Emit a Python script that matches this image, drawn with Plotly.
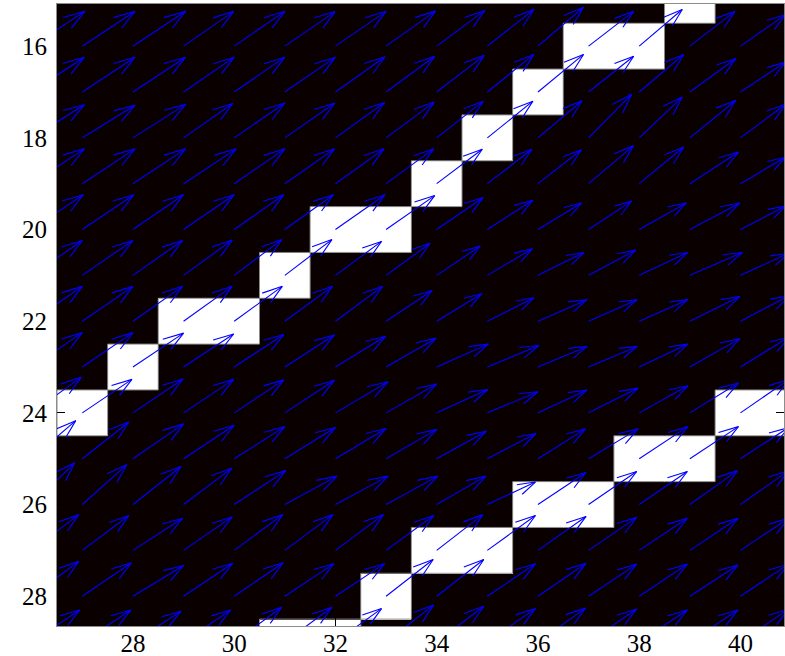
import plotly.graph_objects as go

# ---- image cells (1 = white) ----
x_cells = list(range(26, 42))   # 26 .. 41
y_cells = list(range(15, 30))   # 15 .. 29
white_cells = {
    15: [39],
    16: [37, 38],
    17: [36],
    18: [35],
    19: [34],
    20: [32, 33],
    21: [31],
    22: [29, 30],
    23: [28],
    24: [27, 40, 41],
    25: [38, 39],
    26: [36, 37],
    27: [34, 35],
    28: [33],
    29: [31, 32],
}

# ---- quiver field (tails on the integer grid) ----
x_arrow = list(range(26, 41))   # 26 .. 40
y_arrow = list(range(15, 30))   # 15 .. 29
U = [
    [1.03, 1.04, 1.04, 0.99, 1.00, 1.00, 1.00, 0.98, 0.95, 0.92, 0.90, 0.89, 0.85, 0.89, 0.89],
    [1.05, 1.04, 1.04, 0.99, 1.00, 1.00, 1.00, 0.98, 0.95, 0.92, 0.90, 0.89, 0.85, 0.89, 0.89],
    [1.04, 1.04, 1.04, 1.00, 1.00, 1.00, 0.98, 0.96, 0.94, 0.92, 0.90, 0.89, 0.88, 0.91, 0.89],
    [1.04, 1.04, 1.04, 0.97, 1.00, 0.99, 0.97, 0.95, 0.92, 0.90, 0.87, 0.85, 0.85, 0.91, 0.89],
    [1.04, 1.04, 1.04, 1.04, 1.00, 0.98, 0.96, 0.94, 0.90, 0.88, 0.86, 0.89, 0.88, 0.96, 0.89],
    [1.02, 1.02, 1.00, 1.00, 0.98, 0.96, 0.98, 0.96, 0.92, 0.90, 0.86, 0.85, 0.93, 0.99, 0.89],
    [1.00, 1.00, 0.98, 0.96, 0.94, 0.93, 0.91, 0.87, 0.86, 0.89, 0.91, 0.93, 0.96, 1.04, 0.95],
    [1.00, 1.00, 0.98, 0.96, 0.95, 0.94, 0.93, 0.91, 0.89, 0.92, 0.97, 0.96, 0.96, 0.99, 0.97],
    [1.00, 1.00, 1.00, 0.99, 0.98, 0.98, 0.99, 0.99, 1.02, 1.02, 0.97, 0.96, 0.96, 0.99, 0.97],
    [0.98, 0.98, 0.99, 0.99, 0.98, 0.98, 1.04, 1.00, 1.01, 1.00, 0.97, 0.98, 0.96, 0.96, 0.96],
    [0.87, 0.92, 1.00, 1.00, 1.00, 1.00, 1.00, 1.00, 0.98, 0.96, 0.94, 0.98, 0.96, 0.96, 0.95],
    [0.85, 0.88, 0.95, 0.95, 1.02, 1.03, 1.04, 1.02, 0.97, 0.95, 0.95, 0.95, 0.95, 0.94, 0.95],
    [0.93, 0.92, 0.98, 0.96, 0.96, 0.95, 0.95, 0.94, 0.91, 0.95, 0.95, 0.95, 0.95, 0.95, 0.95],
    [0.93, 0.97, 1.00, 0.97, 0.97, 0.97, 0.97, 0.93, 0.93, 0.95, 0.95, 0.95, 0.95, 0.95, 0.95],
    [0.95, 0.96, 0.95, 0.93, 0.94, 0.93, 0.91, 0.94, 0.93, 0.95, 0.94, 0.95, 0.95, 0.95, 0.95],
]
V = [
    [-0.76, -0.76, -0.76, -0.76, -0.76, -0.76, -0.76, -0.77, -0.78, -0.80, -0.85, -0.76, -0.80, -0.76, -0.69],
    [-0.76, -0.76, -0.76, -0.76, -0.76, -0.76, -0.76, -0.77, -0.78, -0.80, -0.85, -0.76, -0.80, -0.76, -0.69],
    [-0.76, -0.76, -0.76, -0.76, -0.76, -0.76, -0.77, -0.78, -0.80, -0.82, -0.82, -0.78, -0.82, -0.73, -0.65],
    [-0.72, -0.71, -0.73, -0.75, -0.76, -0.76, -0.77, -0.78, -0.80, -0.80, -0.81, -0.95, -0.89, -0.82, -0.73],
    [-0.76, -0.76, -0.76, -0.76, -0.76, -0.76, -0.76, -0.76, -0.75, -0.75, -0.74, -0.83, -0.80, -0.69, -0.58],
    [-0.76, -0.76, -0.76, -0.76, -0.76, -0.76, -0.76, -0.74, -0.70, -0.64, -0.58, -0.62, -0.58, -0.58, -0.51],
    [-0.76, -0.76, -0.76, -0.77, -0.78, -0.78, -0.74, -0.70, -0.64, -0.58, -0.50, -0.55, -0.50, -0.50, -0.48],
    [-0.76, -0.76, -0.76, -0.76, -0.76, -0.76, -0.76, -0.67, -0.60, -0.51, -0.47, -0.47, -0.47, -0.54, -0.56],
    [-0.75, -0.75, -0.74, -0.72, -0.71, -0.70, -0.67, -0.63, -0.50, -0.47, -0.45, -0.45, -0.50, -0.62, -0.66],
    [-0.78, -0.73, -0.74, -0.73, -0.72, -0.71, -0.68, -0.63, -0.51, -0.46, -0.50, -0.54, -0.59, -0.65, -0.73],
    [-0.83, -0.80, -0.76, -0.73, -0.70, -0.68, -0.66, -0.64, -0.60, -0.55, -0.65, -0.65, -0.70, -0.70, -0.68],
    [-0.91, -0.87, -0.83, -0.79, -0.74, -0.62, -0.62, -0.62, -0.62, -0.49, -0.70, -0.72, -0.72, -0.74, -0.74],
    [-0.78, -0.76, -0.70, -0.73, -0.78, -0.78, -0.78, -0.76, -0.78, -0.76, -0.74, -0.72, -0.70, -0.70, -0.70],
    [-0.76, -0.73, -0.67, -0.72, -0.73, -0.71, -0.71, -0.80, -0.80, -0.71, -0.72, -0.70, -0.70, -0.68, -0.70],
    [-0.70, -0.70, -0.67, -0.70, -0.76, -0.76, -0.73, -0.81, -0.78, -0.73, -0.74, -0.72, -0.70, -0.70, -0.72],
]

x_ticks = [28, 30, 32, 34, 36, 38, 40]
y_ticks = [16, 18, 20, 22, 24, 26, 28]

# ---- build the image matrix ----
z = [[1 if (xc in white_cells.get(yc, [])) else 0 for xc in x_cells] for yc in y_cells]

fig = go.Figure()
fig.add_trace(go.Heatmap(
    x=x_cells, y=y_cells, z=z, zmin=0, zmax=1,
    colorscale=[[0, "#0a0000"], [1, "#ffffff"]],
    showscale=False, hoverinfo="skip",
))

# edges between white and black cells (anti-aliased grey outline)
def is_white(xc, yc):
    return xc in white_cells.get(yc, [])

ex, ey = [], []
for yc in y_cells:
    for xc in white_cells.get(yc, []):
        if not is_white(xc - 1, yc):
            ex += [xc - 0.5, xc - 0.5, None]; ey += [yc - 0.5, yc + 0.5, None]
        if not is_white(xc + 1, yc):
            ex += [xc + 0.5, xc + 0.5, None]; ey += [yc - 0.5, yc + 0.5, None]
        if not is_white(xc, yc - 1):
            ex += [xc - 0.5, xc + 0.5, None]; ey += [yc - 0.5, yc - 0.5, None]
        if not is_white(xc, yc + 1):
            ex += [xc - 0.5, xc + 0.5, None]; ey += [yc + 0.5, yc + 0.5, None]
fig.add_trace(go.Scatter(x=ex, y=ey, mode="lines",
                         line=dict(color="#8a8a8a", width=1),
                         hoverinfo="skip", showlegend=False))

# quiver arrows (MATLAB-style head: alpha = beta = 0.33)
alpha, beta = 0.33, 0.33
qx, qy = [], []
for i, yc in enumerate(y_arrow):
    for j, xc in enumerate(x_arrow):
        u, v = U[i][j], V[i][j]
        hx, hy = xc + u, yc + v
        qx += [xc, hx, None]
        qy += [yc, hy, None]
        qx += [hx - alpha * (u + beta * v), hx, hx - alpha * (u - beta * v), None]
        qy += [hy - alpha * (v - beta * u), hy, hy - alpha * (v + beta * u), None]
fig.add_trace(go.Scatter(x=qx, y=qy, mode="lines",
                         line=dict(color="#0000ff", width=1.1),
                         hoverinfo="skip", showlegend=False))

axis_font = dict(family="Liberation Serif, Times New Roman, serif", size=25, color="black")
fig.update_xaxes(range=[26.5, 40.86], tickvals=x_ticks, ticks="inside", ticklen=8,
                 tickcolor="black", showline=True, linecolor="#8c8c8c", mirror="ticks",
                 showgrid=False, zeroline=False, tickfont=axis_font,
                 ticklabelstandoff=-5, automargin=False)
fig.update_yaxes(range=[28.65, 15.08], tickvals=y_ticks, ticks="inside", ticklen=8,
                 tickcolor="black", showline=True, linecolor="#8c8c8c", mirror="ticks",
                 showgrid=False, zeroline=False, tickfont=axis_font,
                 ticklabelstandoff=4, automargin=False)
fig.update_layout(width=785, height=656,
                  margin=dict(l=57, r=1, t=4, b=30, autoexpand=False),
                  paper_bgcolor="white", plot_bgcolor="#0a0000",
                  showlegend=False)

fig.write_html("out.html", config={"displayModeBar": False, "staticPlot": True},
               post_script="document.body.style.margin='0';document.body.style.overflow='hidden';")
